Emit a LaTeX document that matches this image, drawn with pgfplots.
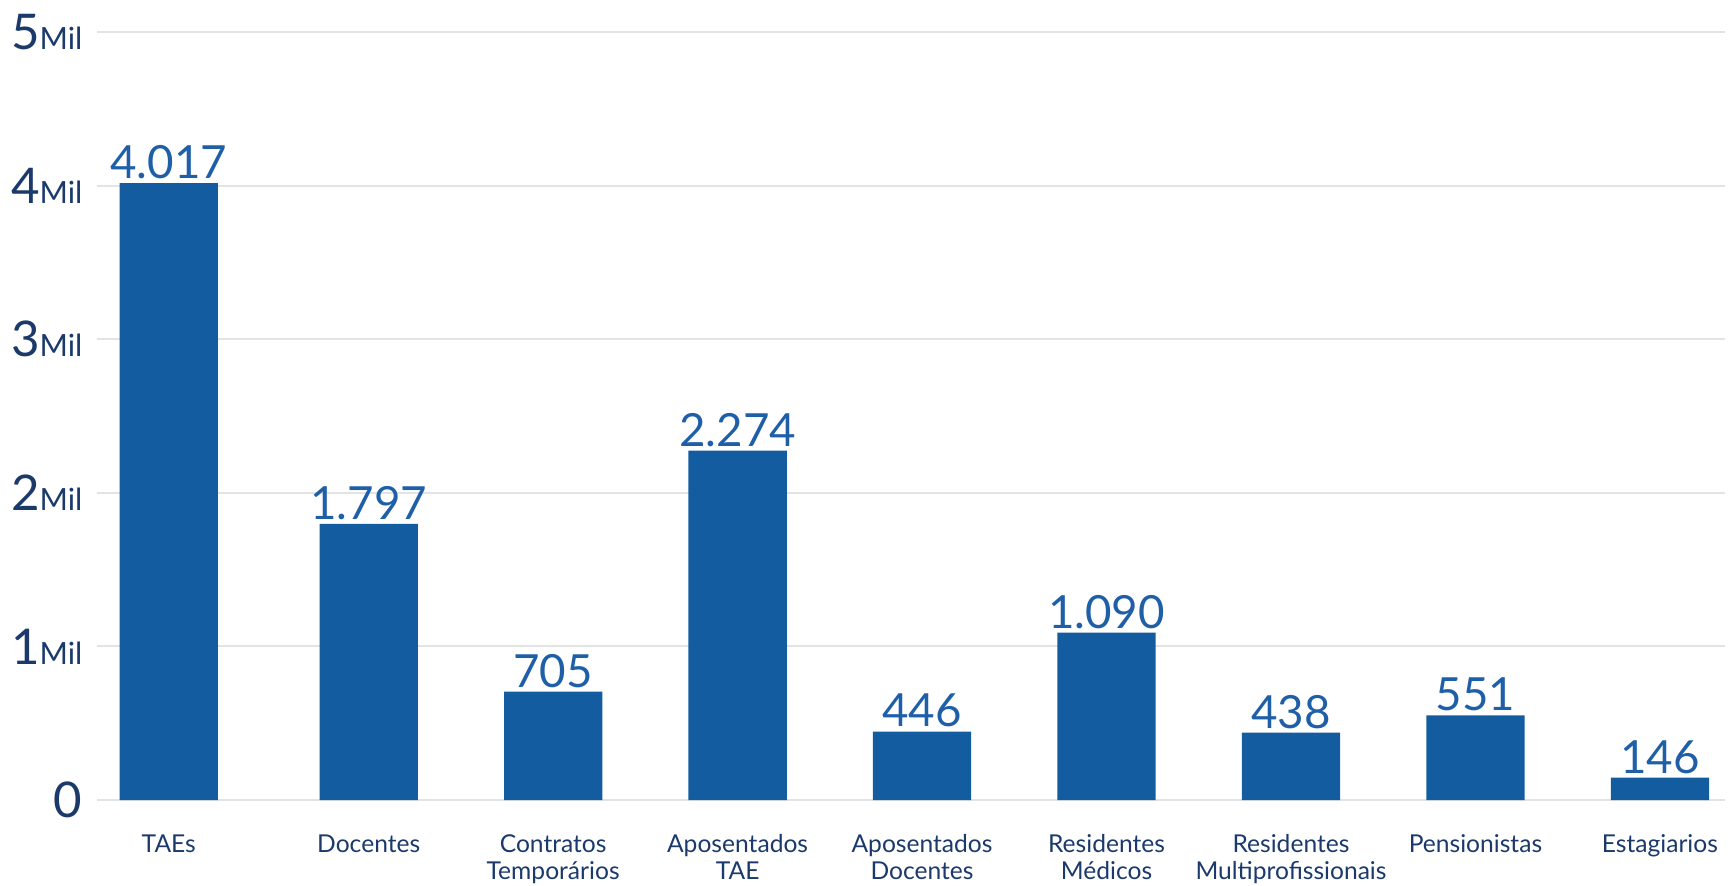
\documentclass[border=0pt]{standalone}
\usepackage{pgfplots}
\pgfplotsset{compat=1.18}
\usepackage{pgfplotstable}
\usepackage{fontspec}
\setmainfont{Lato}
\definecolor{barblue}{HTML}{135CA0}
\definecolor{valblue}{HTML}{1F5FA8}
\definecolor{navy}{HTML}{1B3A6B}
\definecolor{gridgray}{HTML}{E3E3E3}
\pgfplotstableread{
x y lab
0 4017 4.017
1.084 1797 1.797
2.084 705 705
3.084 2274 2.274
4.084 446 446
5.084 1090 1.090
6.084 438 438
7.084 551 551
8.084 146 146
}\datatable
\newcommand{\mil}{{\fontsize{8.7}{9}\selectfont Mil}}
\begin{document}
\begin{tikzpicture}
\useasboundingbox (-0.97,-0.85) rectangle (16.35,8.00);
\begin{axis}[at={(0,0)}, anchor=south west, scale only axis,
  width=16.28cm, height=7.68cm,
  xmin=-0.389, xmax=8.437, ymin=0, ymax=5000,
  ybar, bar width=0.533,
  axis line style={draw=none}, tick style={draw=none},
  ymajorgrids, grid style={gridgray, line width=0.6pt},
  ytick={0,1000,2000,3000,4000,5000},
  yticklabels={0,1\mil,2\mil,3\mil,4\mil,5\mil},
  yticklabel style={font=\fontsize{14}{16}\selectfont, text=navy, inner sep=0pt, xshift=-0.14cm},
  xtick=data,
  xticklabels={TAEs, Docentes, Contratos\\Temporários, Aposentados\\TAE, Aposentados\\Docentes, Residentes\\Médicos, Residentes\\Multiprofissionais, Pensionistas, Estagiarios},
  xticklabel style={font=\fontsize{7}{7.6}\selectfont, text=navy, align=center, anchor=north, inner sep=0pt, yshift=-0.19cm},
  point meta=explicit symbolic,
  nodes near coords,
  nodes near coords style={font=\fontsize{13}{14}\selectfont, text=valblue, anchor=south, inner sep=1pt},
]
\addplot[fill=barblue, draw=none] table[x=x, y=y, meta=lab] {\datatable};
\end{axis}
\end{tikzpicture}
\end{document}
